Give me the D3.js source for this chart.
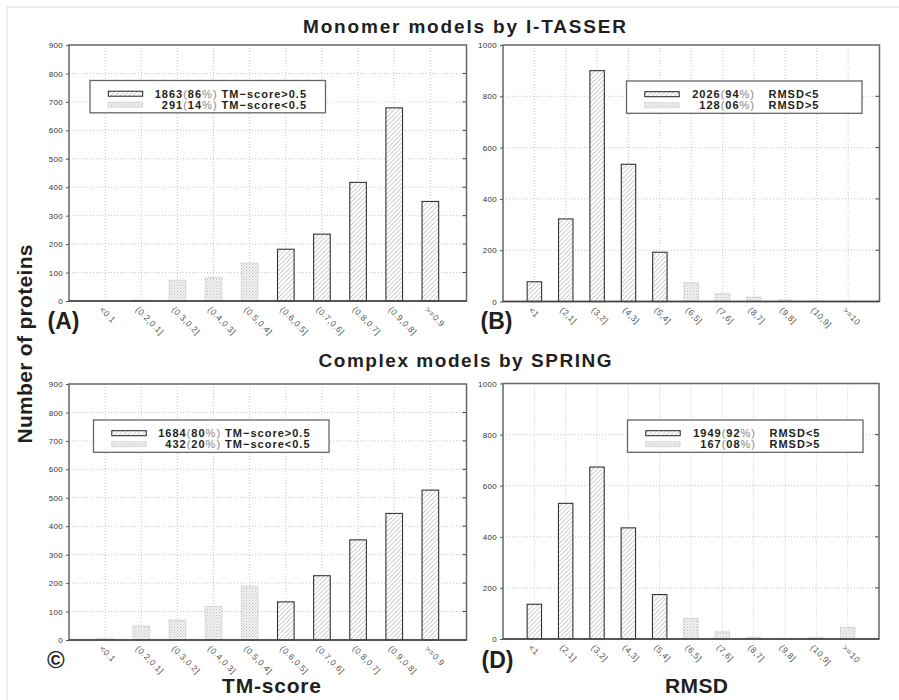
<!doctype html>
<html>
<head>
<script src="https://d3js.org/d3.v7.min.js"></script>
<style>
body { margin: 0; background: #fff; }
svg text { font-family: "Liberation Sans", Arial, sans-serif; }
.grid { stroke: #b8b8b8; stroke-dasharray: 1,2; stroke-width: 0.8; }
.frame { fill: none; stroke: #666; stroke-width: 1.5; }
.tick text { font-size: 8px; fill: #333; letter-spacing: 0.3px; }
.xlab { font-size: 8.5px; fill: #555; letter-spacing: 0.5px; }
.leg { font-size: 11px; font-weight: bold; fill: #231f20; letter-spacing: 1px; }
.leg .light { font-weight: normal; fill: #888; }
.big { font-weight: bold; fill: #231f20; }
</style>
</head>
<body>
<svg id="fig" width="899" height="700"></svg>

<script>
// categories (bins)
var tmCats = ["<0.1", "(0.2,0.1]", "(0.3,0.2]", "(0.4,0.3]", "(0.5,0.4]",
              "(0.6,0.5]", "(0.7,0.6]", "(0.8,0.7]", "(0.9,0.8]", ">=0.9"];
var rmsdCats = ["<1", "(2,1]", "(3,2]", "(4,3]", "(5,4]", "(6,5]",
                "(7,6]", "(8,7]", "(9,8]", "(10,9]", ">=10"];

// which bins count as good models (hatched) vs poor (dotted)
var tmGood = [false, false, false, false, false, true, true, true, true, true];
var rmsdGood = [true, true, true, true, true, false, false, false, false, false, false];

// number of proteins per bin
var monomerTM = [0, 3, 73, 82, 133, 182, 235, 417, 679, 350];
var monomerRMSD = [77, 322, 900, 535, 192, 73, 30, 17, 6, 2, 0];
var complexTM = [6, 49, 70, 118, 189, 134, 226, 352, 445, 527];
var complexRMSD = [136, 531, 673, 435, 174, 80, 28, 7, 2, 5, 45];

// y ticks
var tmTicks = [0, 100, 200, 300, 400, 500, 600, 700, 800, 900];
var rmsdTicks = [0, 200, 400, 600, 800, 1000];

// legend rows: count, percent, label
var monomerTMLeg = [["1863", "86", "TM\u2212score>0.5"], ["291", "14", "TM\u2212score<0.5"]];
var monomerRMSDLeg = [["2026", "94", "RMSD<5"], ["128", "06", "RMSD>5"]];
var complexTMLeg = [["1684", "80", "TM\u2212score>0.5"], ["432", "20", "TM\u2212score<0.5"]];
var complexRMSDLeg = [["1949", "92", "RMSD<5"], ["167", "08", "RMSD>5"]];

var svg = d3.select("#fig");

var defs = svg.append("defs");
var hatch = defs.append("pattern").attr("id", "hatch")
  .attr("patternUnits", "userSpaceOnUse").attr("width", 4.5).attr("height", 4.5);
hatch.append("rect").attr("width", 4.5).attr("height", 4.5).attr("fill", "#fff");
hatch.append("path").attr("d", "M-1,1L1,-1M0,4.5L4.5,0M3.5,5.5L5.5,3.5")
  .attr("stroke", "#909090").attr("stroke-width", 0.6);
var dots = defs.append("pattern").attr("id", "dots")
  .attr("patternUnits", "userSpaceOnUse").attr("width", 3).attr("height", 3);
dots.append("rect").attr("width", 3).attr("height", 3).attr("fill", "#f2f2f2");
dots.append("rect").attr("width", 1).attr("height", 1).attr("fill", "#bdbdbd");
dots.append("rect").attr("x", 1.5).attr("y", 1.5).attr("width", 1).attr("height", 1).attr("fill", "#c8c8c8");

// light figure border (left + top)
svg.append("line").attr("x1", 7).attr("x2", 7).attr("y1", 7).attr("y2", 700).attr("stroke", "#ddd");
svg.append("line").attr("x1", 7).attr("x2", 899).attr("y1", 7).attr("y2", 7).attr("stroke", "#ddd");

var panels = [
  {cats: tmCats, vals: monomerTM, good: tmGood, ticks: tmTicks, max: 900, leg: monomerTMLeg, kind: "tm",
   left: 69, right: 466.5, top: 45, bottom: 301, legX: 90, legY: 80.5},
  {cats: rmsdCats, vals: monomerRMSD, good: rmsdGood, ticks: rmsdTicks, max: 1000, leg: monomerRMSDLeg, kind: "rmsd",
   left: 503, right: 879.5, top: 45, bottom: 301.5, legX: 626.5, legY: 81},
  {cats: tmCats, vals: complexTM, good: tmGood, ticks: tmTicks, max: 900, leg: complexTMLeg, kind: "tm",
   left: 69, right: 466.5, top: 384, bottom: 640, legX: 93.5, legY: 420},
  {cats: rmsdCats, vals: complexRMSD, good: rmsdGood, ticks: rmsdTicks, max: 1000, leg: complexRMSDLeg, kind: "rmsd",
   left: 503, right: 879, top: 383.5, bottom: 639, legX: 627.5, legY: 420}
];

panels.forEach(function (p) {
  var n = p.cats.length;
  var x = d3.scaleLinear().domain([0, n + 1]).range([p.left, p.right]);
  var y = d3.scaleLinear().domain([0, p.max]).range([p.bottom, p.top]);
  var g = svg.append("g");
  var bw = (x(1) - x(0)) * 0.46;

  // grid
  g.selectAll(".gy").data(p.ticks.slice(1, -1)).enter().append("line")
    .attr("class", "grid")
    .attr("x1", p.left).attr("x2", p.right)
    .attr("y1", function (d) { return y(d); }).attr("y2", function (d) { return y(d); });
  g.selectAll(".gx").data(p.cats).enter().append("line")
    .attr("class", "grid")
    .attr("x1", function (d, i) { return x(i + 1); }).attr("x2", function (d, i) { return x(i + 1); })
    .attr("y1", p.top).attr("y2", p.bottom);

  // bars
  g.selectAll("rect.bar").data(p.vals).enter().append("rect")
    .attr("class", "bar")
    .attr("x", function (d, i) { return x(i + 1) - bw / 2; })
    .attr("y", function (d) { return y(d); })
    .attr("width", bw)
    .attr("height", function (d) { return p.bottom - y(d); })
    .attr("fill", function (d, i) { return p.good[i] ? "url(#hatch)" : "url(#dots)"; })
    .attr("stroke", function (d, i) { return p.good[i] ? "#333" : "#bbb"; })
    .attr("stroke-width", function (d, i) { return p.good[i] ? 1.1 : 0.9; })
    .attr("stroke-dasharray", function (d, i) { return p.good[i] ? null : "1.5,1"; });

  // left axis
  var ax = g.append("g").attr("transform", "translate(" + p.left + ",0)")
    .call(d3.axisLeft(y).tickValues(p.ticks).tickFormat(d3.format("d")).tickSize(3).tickPadding(3));
  ax.select(".domain").remove();
  ax.selectAll(".tick line").attr("stroke", "#555");

  // inward ticks on the right side
  g.selectAll(".rt").data(p.ticks.slice(1, -1)).enter().append("line")
    .attr("x1", p.right - 4).attr("x2", p.right)
    .attr("y1", function (d) { return y(d); }).attr("y2", function (d) { return y(d); })
    .attr("stroke", "#444");

  g.append("rect").attr("class", "frame")
    .attr("x", p.left).attr("y", p.top)
    .attr("width", p.right - p.left).attr("height", p.bottom - p.top);
  g.append("line").attr("x1", p.left).attr("x2", p.right)
    .attr("y1", p.bottom).attr("y2", p.bottom)
    .attr("stroke", "#444").attr("stroke-width", 1.6);

  // rotated bin labels
  g.selectAll(".xlab").data(p.cats).enter().append("text")
    .attr("class", "xlab")
    .attr("transform", function (d, i) {
      return "translate(" + (x(i + 1) - 2) + "," + (p.bottom + 5) + ") rotate(45)";
    })
    .attr("dy", "0.7em")
    .text(function (d) { return d; });

  // legend
  var lg = g.append("g").attr("transform", "translate(" + p.legX + "," + p.legY + ")");
  lg.append("rect").attr("width", 235.5).attr("height", 32.3)
    .attr("fill", "#fff").attr("stroke", "#666").attr("stroke-width", 1.3);
  lg.append("rect").attr("x", 18.3).attr("y", 10.7).attr("width", 34.4).attr("height", 5)
    .attr("fill", "url(#hatch)").attr("stroke", "#222").attr("stroke-width", 1);
  lg.append("rect").attr("x", 18.3).attr("y", 21.7).attr("width", 34.4).attr("height", 5)
    .attr("fill", "url(#dots)").attr("stroke", "#bbb").attr("stroke-width", 0.8)
    .attr("stroke-dasharray", "1.5,1");
  p.leg.forEach(function (r, k) {
    var by = 17.3 + k * 11;
    var t = lg.append("text").attr("class", "leg").attr("y", by);
    if (p.kind === "tm") {
      t.attr("x", 217).attr("text-anchor", "end");
      t.append("tspan").text(r[0]);
      t.append("tspan").attr("class", "light").text("(");
      t.append("tspan").text(r[1]);
      t.append("tspan").attr("class", "light").text("%)");
      t.append("tspan").text(" " + r[2]);
    } else {
      t.attr("x", 128.5).attr("text-anchor", "end");
      t.append("tspan").text(r[0]);
      t.append("tspan").attr("class", "light").text("(");
      t.append("tspan").text(r[1]);
      t.append("tspan").attr("class", "light").text("%)");
      lg.append("text").attr("class", "leg").attr("x", 142).attr("y", by).text(r[2]);
    }
  });
});

// titles and labels
function big(txt, x, y, size, len) {
  var t = svg.append("text").attr("class", "big").attr("x", x).attr("y", y)
    .style("font-size", size + "px").text(txt);
  if (len) t.attr("textLength", len).attr("lengthAdjust", "spacing");
  return t;
}
big("Monomer models by I-TASSER", 303, 32.5, 19, 323);
big("Complex models by SPRING", 318.5, 367.3, 19, 293);
big("TM-score", 222, 692.7, 21, 99);
big("RMSD", 665, 693, 21, 63);
big("(A)", 47.5, 329, 23);
big("(B)", 480.5, 329, 23);
big("\u00a9", 47, 668, 24);
big("(D)", 481.5, 668, 23);
big("Number of proteins", 0, 0, 21, 199)
  .attr("transform", "translate(32,443.5) rotate(-90)");
</script>
</body>
</html>
